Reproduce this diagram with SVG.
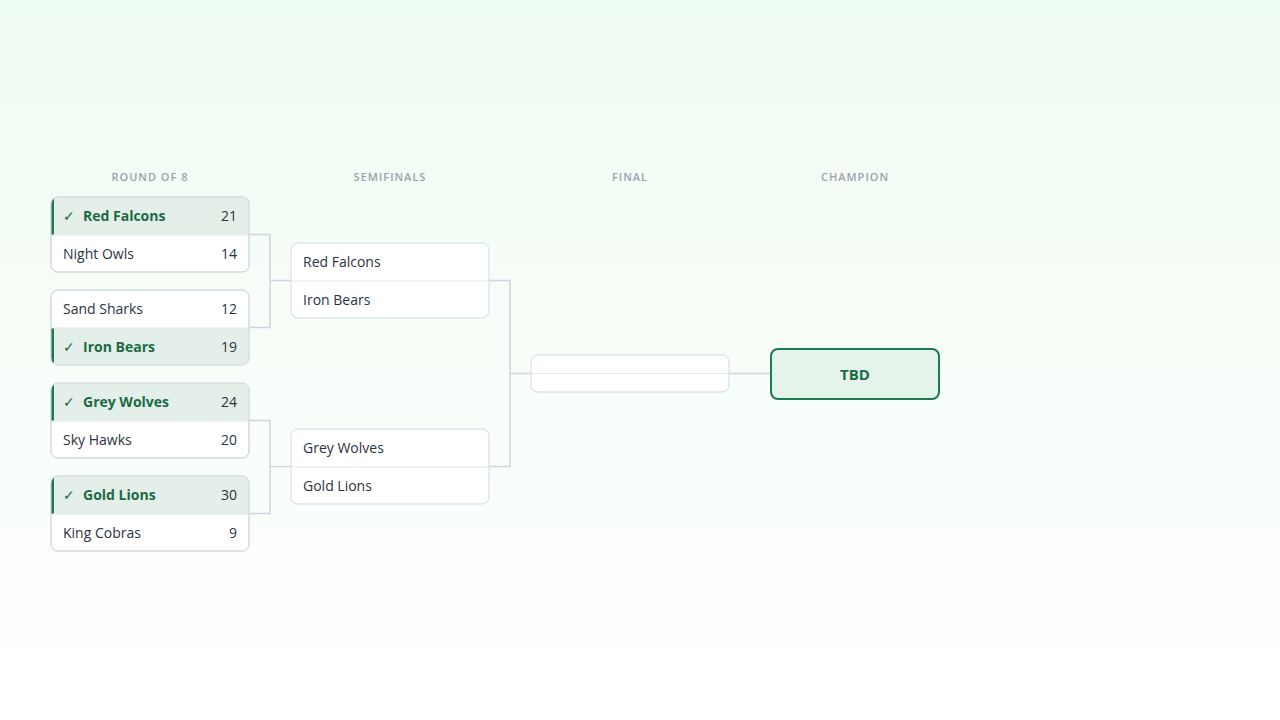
<svg xmlns="http://www.w3.org/2000/svg" width="1280" height="720" viewBox="0 0 1280 720">
<defs>
<linearGradient id="bg" x1="0" y1="0" x2="0" y2="1"><stop offset="0" stop-color="#effcf1"/><stop offset="1" stop-color="#ffffff"/></linearGradient>
<clipPath id="c1"><rect x="51" y="197" width="198" height="75" rx="7"/></clipPath>
<clipPath id="c2"><rect x="51" y="290" width="198" height="75" rx="7"/></clipPath>
<clipPath id="c3"><rect x="51" y="383" width="198" height="75" rx="7"/></clipPath>
<clipPath id="c4"><rect x="51" y="476" width="198" height="75" rx="7"/></clipPath>
</defs>
<style>
.hd{font:600 11px "Open Sans","Liberation Sans",sans-serif;fill:#9aa3ad;letter-spacing:1px;text-anchor:middle}
.t{font:14px "Open Sans","Liberation Sans",sans-serif;fill:#2b3440}
.w{font:700 14px "Open Sans","Liberation Sans",sans-serif;fill:#1a6b45}
.ck{font:14px "DejaVu Sans",sans-serif;fill:#1a6b45}
.s{text-anchor:end}
.box{fill:#fff;stroke:#d3d9e0;stroke-width:1}
.win{fill:#e3efe8}
.bar{fill:#1e7a4f}
.div{stroke:#e3e8ec;stroke-width:1}
.ln{fill:none;stroke:#cdd5de;stroke-width:1.5}
</style>
<rect width="1280" height="720" fill="url(#bg)"/>
<text class="hd" x="150" y="181">ROUND OF 8</text>
<text class="hd" x="390" y="181">SEMIFINALS</text>
<text class="hd" x="630" y="181">FINAL</text>
<text class="hd" x="855" y="181">CHAMPION</text>
<g id="connectors">
<path class="ln" d="M249 234.5H270V327.5H249M270 280.5H291"/>
<path class="ln" d="M249 420.5H270V513.5H249M270 466.5H291"/>
<path class="ln" d="M489 280.5H510V466.5H489M510 373.5H531"/>
<path class="ln" d="M729 373.5H771"/>
</g>
<g id="m1">
<rect class="box" x="51" y="197" width="198" height="75" rx="7"/>
<g clip-path="url(#c1)"><rect class="win" x="51" y="197" width="198" height="38"/><rect class="bar" x="51" y="197" width="3" height="38"/></g>
<rect x="51" y="197" width="198" height="75" rx="7" fill="none" stroke="#d3d9e0"/>
<line class="div" x1="51" y1="235" x2="249" y2="235"/>
<text class="ck" x="63" y="221">✓</text><text class="w" x="83" y="221">Red Falcons</text><text class="t s" x="237" y="221">21</text>
<text class="t" x="63" y="259">Night Owls</text><text class="t s" x="237" y="259">14</text>
</g>
<g id="m2">
<rect class="box" x="51" y="290" width="198" height="75" rx="7"/>
<g clip-path="url(#c2)"><rect class="win" x="51" y="328" width="198" height="37"/><rect class="bar" x="51" y="328" width="3" height="37"/></g>
<rect x="51" y="290" width="198" height="75" rx="7" fill="none" stroke="#d3d9e0"/>
<line class="div" x1="51" y1="328" x2="249" y2="328"/>
<text class="t" x="63" y="314">Sand Sharks</text><text class="t s" x="237" y="314">12</text>
<text class="ck" x="63" y="352">✓</text><text class="w" x="83" y="352">Iron Bears</text><text class="t s" x="237" y="352">19</text>
</g>
<g id="m3">
<rect class="box" x="51" y="383" width="198" height="75" rx="7"/>
<g clip-path="url(#c3)"><rect class="win" x="51" y="383" width="198" height="38"/><rect class="bar" x="51" y="383" width="3" height="38"/></g>
<rect x="51" y="383" width="198" height="75" rx="7" fill="none" stroke="#d3d9e0"/>
<line class="div" x1="51" y1="421" x2="249" y2="421"/>
<text class="ck" x="63" y="407">✓</text><text class="w" x="83" y="407">Grey Wolves</text><text class="t s" x="237" y="407">24</text>
<text class="t" x="63" y="445">Sky Hawks</text><text class="t s" x="237" y="445">20</text>
</g>
<g id="m4">
<rect class="box" x="51" y="476" width="198" height="75" rx="7"/>
<g clip-path="url(#c4)"><rect class="win" x="51" y="476" width="198" height="38"/><rect class="bar" x="51" y="476" width="3" height="38"/></g>
<rect x="51" y="476" width="198" height="75" rx="7" fill="none" stroke="#d3d9e0"/>
<line class="div" x1="51" y1="514" x2="249" y2="514"/>
<text class="ck" x="63" y="500">✓</text><text class="w" x="83" y="500">Gold Lions</text><text class="t s" x="237" y="500">30</text>
<text class="t" x="63" y="538">King Cobras</text><text class="t s" x="237" y="538">9</text>
</g>
<g id="s1">
<rect class="box" x="291" y="243" width="198" height="75" rx="7"/>
<line class="div" x1="291" y1="281" x2="489" y2="281"/>
<text class="t" x="303" y="267">Red Falcons</text>
<text class="t" x="303" y="305">Iron Bears</text>
</g>
<g id="s2">
<rect class="box" x="291" y="429" width="198" height="75" rx="7"/>
<line class="div" x1="291" y1="467" x2="489" y2="467"/>
<text class="t" x="303" y="453">Grey Wolves</text>
<text class="t" x="303" y="491">Gold Lions</text>
</g>
<g id="final">
<rect class="box" x="531" y="355" width="198" height="37" rx="7"/>
<line class="div" x1="531" y1="373.5" x2="729" y2="373.5"/>
</g>
<g id="champion">
<rect x="771" y="349" width="168" height="50" rx="7" fill="#e5f4ea" stroke="#1e7a4f" stroke-width="2"/>
<text x="855" y="380" text-anchor="middle" style="font:700 15px 'Open Sans','Liberation Sans',sans-serif;fill:#1a6b45">TBD</text>
</g>
</svg>
